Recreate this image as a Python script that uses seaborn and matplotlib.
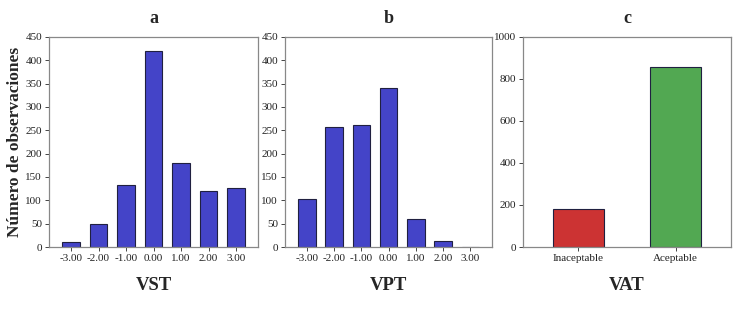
import matplotlib
matplotlib.use("Agg")
import matplotlib.pyplot as plt
import seaborn as sns
import pandas as pd

# Data
vst_labels = ["-3.00", "-2.00", "-1.00", "0.00", "1.00", "2.00", "3.00"]
vst_counts = [10, 49, 132, 420, 180, 120, 127]
vpt_labels = ["-3.00", "-2.00", "-1.00", "0.00", "1.00", "2.00", "3.00"]
vpt_counts = [103, 256, 262, 341, 59, 13, 1]
vat_labels = ["Inaceptable", "Aceptable"]
vat_counts = [181, 858]

sns.set_theme(style="white")
plt.rcParams["font.family"] = ["Liberation Serif", "DejaVu Serif"]

fig = plt.figure(figsize=(7.37, 3.09), dpi=100)
axes = [
    fig.add_axes([0.0665, 0.2006, 0.2836, 0.68]),
    fig.add_axes([0.3867, 0.2006, 0.2810, 0.68]),
    fig.add_axes([0.7096, 0.2006, 0.2822, 0.68]),
]

blue = "#4444C8"
edge = "#202040"

def style(ax, title, xlabel, ymax, ystep):
    ax.set_title(title, fontsize=13, fontweight="bold", pad=10)
    ax.set_xlabel(xlabel, fontsize=13.5, fontweight="bold", labelpad=10)
    ax.set_ylabel("")
    ax.set_ylim(0, ymax)
    ax.set_yticks(range(0, ymax + 1, ystep))
    for s in ax.spines.values():
        s.set_color("#888888")
        s.set_linewidth(0.9)
    ax.tick_params(axis="both", which="both", direction="out", length=3,
                   width=0.7, color="#444444", labelsize=8, pad=2,
                   bottom=True, left=True)
    for lbl in ax.get_xticklabels() + ax.get_yticklabels():
        lbl.set_color("#222222")

df_a = pd.DataFrame({"cat": vst_labels, "n": vst_counts})
sns.barplot(data=df_a, x="cat", y="n", color=blue, saturation=1,
            width=0.64, edgecolor=edge, linewidth=0.8, ax=axes[0])
axes[0].set_xlim(-0.8, 6.8)
style(axes[0], "a", "VST", 450, 50)

df_b = pd.DataFrame({"cat": vpt_labels, "n": vpt_counts})
sns.barplot(data=df_b, x="cat", y="n", color=blue, saturation=1,
            width=0.64, edgecolor=edge, linewidth=0.8, ax=axes[1])
axes[1].set_xlim(-0.8, 6.8)
style(axes[1], "b", "VPT", 450, 50)

df_c = pd.DataFrame({"cat": vat_labels, "n": vat_counts})
sns.barplot(data=df_c, x="cat", y="n", hue="cat", palette=["#CC3333", "#52A852"],
            saturation=1, legend=False,
            width=0.53, edgecolor=edge, linewidth=0.8, ax=axes[2])
axes[2].set_xlim(-0.57, 1.57)
style(axes[2], "c", "VAT", 1000, 200)

fig.text(0.021, 0.54, "Número de observaciones", rotation=90, ha="center",
         va="center", fontsize=12.5, fontweight="bold")

fig.savefig("out.png", dpi=100)
